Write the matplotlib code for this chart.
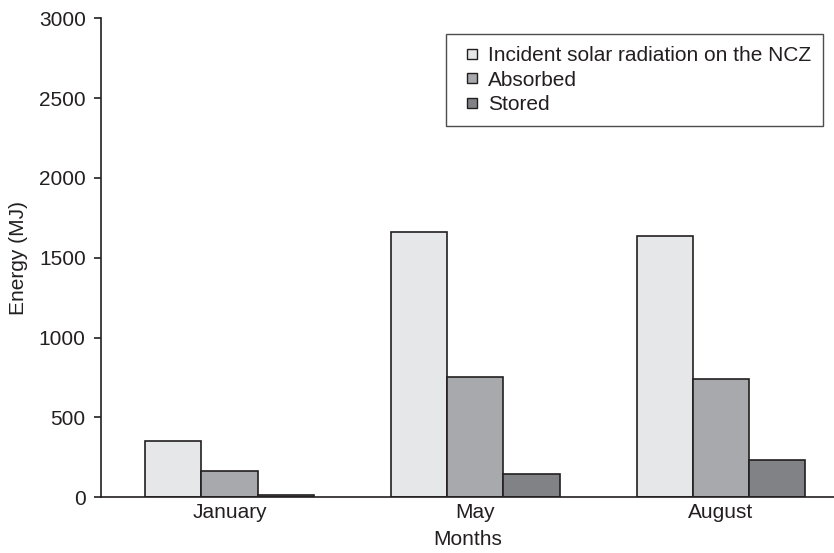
import matplotlib
matplotlib.use("Agg")
import matplotlib.pyplot as plt
from matplotlib.lines import Line2D
import numpy as np

months = ["January", "May", "August"]
series = ["Incident solar radiation on the NCZ", "Absorbed", "Stored"]
incident = [355, 1663, 1638]
absorbed = [163, 753, 739]
stored = [16, 148, 232]
colors = ["#e6e7e8", "#a7a9ac", "#808285"]

plt.rcParams["font.family"] = ["Liberation Sans", "DejaVu Sans"]
FS = 15
INK = "#231f20"

fig = plt.figure(figsize=(8.34, 5.53), dpi=100)
ax = fig.add_axes([0.121, 0.1007, 0.879, 0.8663])

x = np.arange(len(months))
w = 0.229
for i, (vals, c, lab) in enumerate(zip([incident, absorbed, stored], colors, series)):
    ax.bar(x + (i - 1) * w, vals, w, color=c, edgecolor=INK, linewidth=1.2, label=lab)

ax.set_xlim(-0.523, 2.46)
ax.set_ylim(0, 3000)
ax.set_yticks(range(0, 3001, 500))
ax.set_xticks(x)
ax.set_xticklabels(months)
ax.tick_params(axis="x", length=0, labelsize=FS, pad=4, colors=INK)
ax.tick_params(axis="y", length=5, width=1.2, labelsize=FS, pad=6, colors=INK)
for s in ["top", "right"]:
    ax.spines[s].set_visible(False)
for s in ["left", "bottom"]:
    ax.spines[s].set_linewidth(1.2)
    ax.spines[s].set_color(INK)

ax.set_xlabel("Months", fontsize=FS, color=INK, labelpad=6)
ax.set_ylabel("Energy (MJ)", fontsize=FS, color=INK, labelpad=8)

# small square markers, like the original legend
handles = [Line2D([], [], linestyle="none", marker="s", markersize=7.2,
                  markerfacecolor=c, markeredgecolor=INK, markeredgewidth=1.0)
           for c in colors]
leg = ax.legend(handles, series, loc="upper right", bbox_to_anchor=(0.985, 0.967),
                fontsize=FS, frameon=True, fancybox=False, handlelength=1.35,
                handletextpad=0.1, labelspacing=0.26, borderpad=0.58, borderaxespad=0)
leg.get_frame().set_edgecolor(INK)
leg.get_frame().set_linewidth(1.0)
for t in leg.get_texts():
    t.set_color(INK)

fig.savefig("out.png", dpi=100)
